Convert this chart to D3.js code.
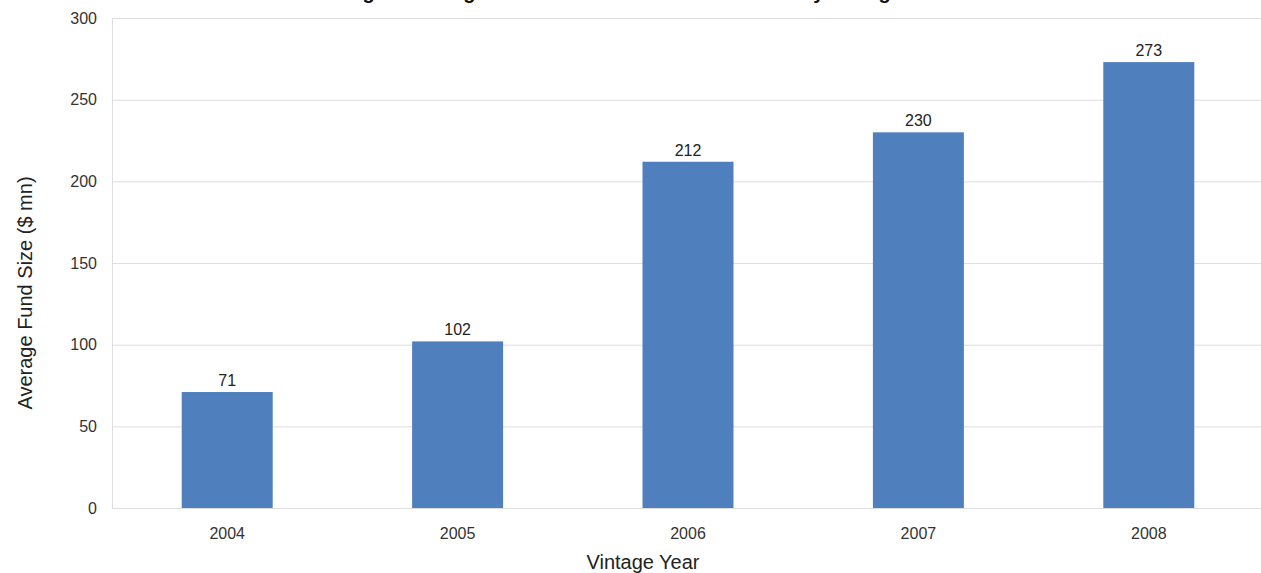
<!DOCTYPE html>
<html>
<head>
<meta charset="utf-8">
<script src="https://cdn.jsdelivr.net/npm/d3@7/dist/d3.min.js"></script>
<style>
  html, body { margin: 0; padding: 0; background: #fff; }
  svg { display: block; font-family: Arial, "Liberation Sans", sans-serif; }
</style>
</head>
<body>
<svg id="chart" width="1261" height="573"></svg>
<script>
// Average fund size by vintage year
const years = ["2004", "2005", "2006", "2007", "2008"];
const fundSize = [71, 102, 212, 230, 273];
const yTicks = [0, 50, 100, 150, 200, 250, 300];
const titleText = "Fig. 3: Average Size of Cleantech Funds Closed by Vintage Year";
const xTitle = "Vintage Year";
const yTitle = "Average Fund Size ($ mn)";

const svg = d3.select("#chart");
const W = 1261, H = 573;
const margin = { left: 112, right: -3, top: 18, bottom: 65 };

const x = d3.scaleBand()
  .domain(years)
  .range([margin.left, W - margin.right])
  .paddingInner(0.605)
  .paddingOuter(0.3025);

const y = d3.scaleLinear()
  .domain([0, 300])
  .range([H - margin.bottom, margin.top]);

// Horizontal gridlines with value labels on the left
const yAxis = d3.axisLeft(y)
  .tickValues(yTicks)
  .tickSize(-(W - margin.right - margin.left))
  .tickPadding(15)
  .tickFormat(d3.format("d"));

const gy = svg.append("g")
  .attr("transform", `translate(${margin.left},0)`)
  .call(yAxis);
gy.select(".domain").remove();
gy.selectAll(".tick line").attr("stroke", "#dedede").attr("stroke-width", 1);
gy.selectAll(".tick text")
  .attr("fill", "#333")
  .style("font-size", "16px");

// Left border of the plot area
svg.append("line")
  .attr("x1", margin.left + 0.5).attr("x2", margin.left + 0.5)
  .attr("y1", y(300)).attr("y2", y(0))
  .attr("stroke", "#dedede");

// Bars
svg.append("g").selectAll("rect")
  .data(fundSize)
  .join("rect")
  .attr("x", (d, i) => x(years[i]))
  .attr("width", x.bandwidth())
  .attr("y", d => y(d))
  .attr("height", d => y(0) - y(d))
  .attr("fill", "#4f80bd");

// Value labels above bars
svg.append("g").selectAll("text")
  .data(fundSize)
  .join("text")
  .attr("x", (d, i) => x(years[i]) + x.bandwidth() / 2)
  .attr("y", d => y(d) - 6)
  .attr("text-anchor", "middle")
  .attr("fill", "#222")
  .style("font-size", "16px")
  .text(d => d);

// Category axis
const xAxis = d3.axisBottom(x).tickSize(0).tickPadding(20);
const gx = svg.append("g")
  .attr("transform", `translate(0,${y(0)})`)
  .call(xAxis);
gx.select(".domain").remove();
gx.selectAll(".tick text")
  .attr("fill", "#333")
  .style("font-size", "16px");

// Axis titles
svg.append("text")
  .attr("x", 643)
  .attr("y", 569)
  .attr("text-anchor", "middle")
  .attr("fill", "#222")
  .style("font-size", "20px")
  .text(xTitle);

svg.append("text")
  .attr("transform", `translate(32,293) rotate(-90)`)
  .attr("text-anchor", "middle")
  .attr("fill", "#222")
  .style("font-size", "20px")
  .text(yTitle);

// Chart title, sitting above the top edge of the canvas
svg.append("text")
  .attr("x", 647)
  .attr("y", -1)
  .attr("text-anchor", "middle")
  .attr("fill", "#111")
  .style("font-size", "20px")
  .style("font-weight", "bold")
  .text(titleText);
</script>
</body>
</html>
